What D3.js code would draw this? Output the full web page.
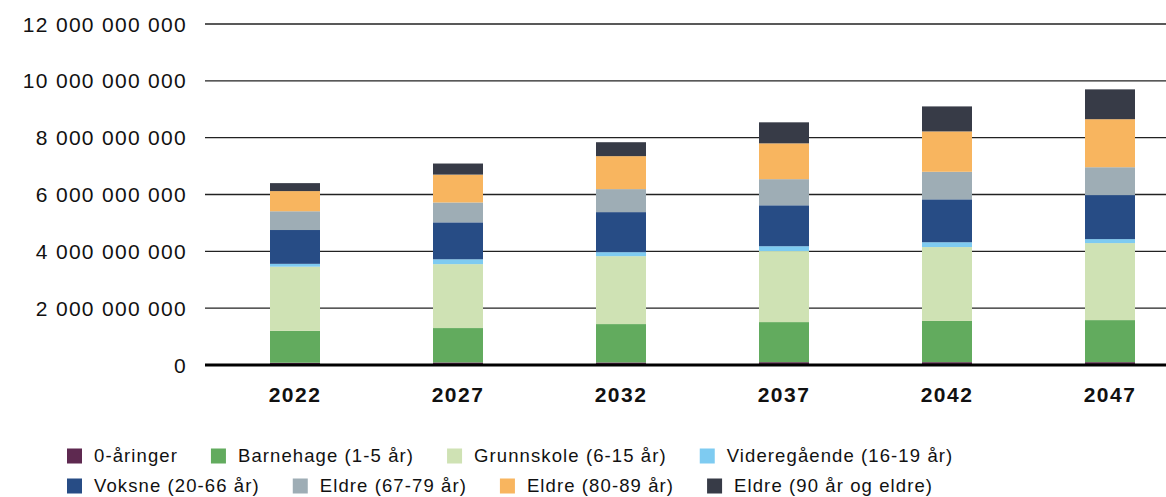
<!DOCTYPE html>
<html>
<head>
<meta charset="utf-8">
<script src="https://cdn.jsdelivr.net/npm/d3@7"></script>
<style>
  body { margin: 0; background: #fff; }
  text { font-family: "Liberation Sans", Arial, sans-serif; fill: #111; }
</style>
</head>
<body>
<div id="chart"></div>
<script>
// Categories (years) and series values (NOK)
const years = ["2022", "2027", "2032", "2037", "2042", "2047"];

const nullAaringer  = [80000000, 90000000, 90000000, 100000000, 100000000, 100000000];
const barnehage     = [1120000000, 1210000000, 1350000000, 1410000000, 1450000000, 1480000000];
const grunnskole    = [2260000000, 2250000000, 2390000000, 2500000000, 2600000000, 2710000000];
const videregaende  = [100000000, 170000000, 140000000, 170000000, 170000000, 140000000];
const voksne        = [1190000000, 1300000000, 1410000000, 1440000000, 1510000000, 1550000000];
const eldre6779     = [660000000, 700000000, 810000000, 920000000, 970000000, 980000000];
const eldre8089     = [710000000, 980000000, 1160000000, 1260000000, 1420000000, 1690000000];
const eldre90       = [280000000, 390000000, 490000000, 740000000, 880000000, 1050000000];

const yTicks = [0, 2000000000, 4000000000, 6000000000, 8000000000, 10000000000, 12000000000];

const seriesNames = [
    "0-åringer", "Barnehage (1-5 år)", "Grunnskole (6-15 år)", "Videregående (16-19 år)",
    "Voksne (20-66 år)", "Eldre (67-79 år)", "Eldre (80-89 år)", "Eldre (90 år og eldre)"
];
const seriesValues = [nullAaringer, barnehage, grunnskole, videregaende, voksne, eldre6779, eldre8089, eldre90];
const colors = ["#5e2950", "#62ab5e", "#cfe2b4", "#7ecbf1", "#274c85", "#9eadb5", "#f8b55f", "#373b47"];

// build rows for d3.stack
const table = years.map((year, i) => {
    const row = {year};
    seriesNames.forEach((name, s) => { row[name] = seriesValues[s][i]; });
    return row;
});

const svg = d3.select("#chart").append("svg")
    .attr("width", 1166)
    .attr("height", 497);

const plot = {left: 205, right: 1166, top: 24, bottom: 365};

const y = d3.scaleLinear().domain([0, 12000000000]).range([plot.bottom, plot.top]);
const x = d3.scalePoint().domain(years).range([295, 1110]);
const barWidth = 50;

const fmt = v => d3.format(",")(v).replace(/,/g, " ");

// gridlines + y labels
const grid = svg.append("g");
grid.selectAll("line").data(yTicks.filter(d => d > 0)).join("line")
    .attr("x1", plot.left).attr("x2", plot.right)
    .attr("y1", d => y(d)).attr("y2", d => y(d))
    .attr("stroke", "#222").attr("stroke-width", 1.3);

grid.selectAll("text").data(yTicks).join("text")
    .attr("x", 187)
    .attr("y", d => y(d))
    .attr("dy", "0.36em")
    .attr("text-anchor", "end")
    .style("font-size", "21px")
    .style("letter-spacing", "1.3px")
    .text(fmt);

// stacked bars
const stack = d3.stack().keys(seriesNames);
const layers = stack(table);

svg.append("g").selectAll("g").data(layers).join("g")
    .attr("fill", (d, i) => colors[i])
    .selectAll("rect").data(d => d).join("rect")
    .attr("x", d => x(d.data.year) - barWidth / 2)
    .attr("width", barWidth)
    .attr("y", d => y(d[1]))
    .attr("height", d => y(d[0]) - y(d[1]));

// zero line
svg.append("line")
    .attr("x1", plot.left).attr("x2", plot.right)
    .attr("y1", y(0)).attr("y2", y(0))
    .attr("stroke", "#000").attr("stroke-width", 3);

// x labels
svg.append("g").selectAll("text").data(years).join("text")
    .attr("x", d => x(d))
    .attr("y", 402)
    .attr("text-anchor", "middle")
    .style("font-size", "21px")
    .style("font-weight", "bold")
    .style("letter-spacing", "1.5px")
    .text(d => d);

// legend, two rows of four, flowing left to right
const legendRows = [[0, 1, 2, 3], [4, 5, 6, 7]];
const legendY = [456, 486];
const legend = svg.append("g");
legendRows.forEach((row, r) => {
    let cx = 67;
    row.forEach(s => {
        const item = legend.append("g").attr("transform", `translate(${cx},${legendY[r]})`);
        item.append("rect")
            .attr("x", 0).attr("y", -7.5)
            .attr("width", 15).attr("height", 15)
            .attr("fill", colors[s]);
        const t = item.append("text")
            .attr("x", 27)
            .attr("dy", "0.34em")
            .style("font-size", "18.5px")
            .style("letter-spacing", "1.1px")
            .text(seriesNames[s]);
        cx += 27 + t.node().getComputedTextLength() + 33;
    });
});
</script>
</body>
</html>
